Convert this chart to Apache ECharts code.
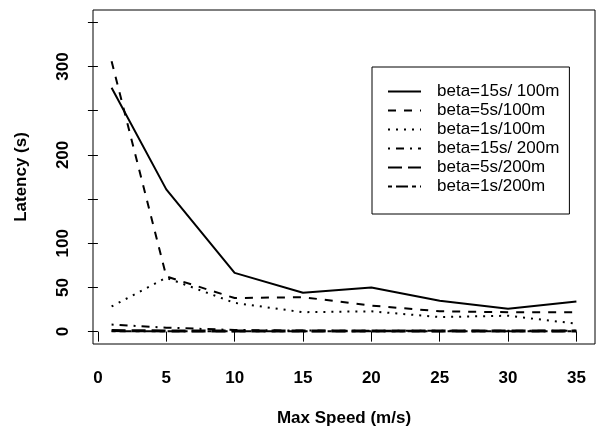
<!DOCTYPE html>
<html>
<head>
<meta charset="utf-8">
<script src="https://cdn.jsdelivr.net/npm/echarts@6/dist/echarts.min.js"></script>
<style>html,body{margin:0;padding:0;background:#fff}#c{width:597px;height:430px}</style>
</head>
<body>
<div id="c"></div>
<script>
var speeds = [1, 5, 10, 15, 20, 25, 30, 35];
var seriesNames = ['beta=15s/ 100m', 'beta=5s/100m', 'beta=1s/100m', 'beta=15s/ 200m', 'beta=5s/200m', 'beta=1s/200m'];
var b15s100 = [276, 161, 66.5, 44, 50, 35, 26, 34];
var b5s100 = [306, 62.5, 38, 39, 29.5, 23, 22, 22];
var b1s100 = [28.5, 61, 32.5, 22, 23, 16.5, 18, 9];
var b15s200 = [8, 4.5, 1.8, 1.2, 1, 1, 1, 1];
var b5s200 = [1.2, 0.8, 0.8, 0.8, 0.8, 0.8, 0.8, 0.8];
var b1s200 = [0.5, 0.5, 0.5, 0.5, 0.5, 0.5, 0.5, 0.5];
var xTicks = [0, 5, 10, 15, 20, 25, 30, 35];
var yTicks = [0, 50, 100, 150, 200, 250, 300, 350];
var yLabels = [0, 50, 100, 200, 300];

var seriesValues = [b15s100, b5s100, b1s100, b15s200, b5s200, b1s200];
var dashes = ['solid', [8, 8], [2, 6], [2, 6, 8, 6], [14, 6], [4, 4, 12, 4]];
var widths = [2, 2, 2, 2, 3, 2];
var FONT = 'Liberation Sans, Arial, Helvetica, sans-serif';

var series = seriesNames.map(function (n, i) {
  return {
    name: n, type: 'line', symbol: 'none', animation: false,
    data: speeds.map(function (x, j) { return [x, seriesValues[i][j]]; }),
    lineStyle: { color: '#000', width: widths[i], type: dashes[i], cap: 'butt' },
    itemStyle: { color: '#000' }
  };
});

var chart = echarts.init(document.getElementById('c'), null, { renderer: 'canvas' });
chart.setOption({
  backgroundColor: '#fff',
  animation: false,
  grid: { left: 93, right: 2, top: 10, bottom: 86, show: true, borderColor: '#000', borderWidth: 1, backgroundColor: 'transparent', containLabel: false, outerBoundsMode: 'none' },
  xAxis: {
    type: 'value', min: -0.36, max: 36.36,
    name: 'Max Speed (m/s)', nameLocation: 'middle', nameGap: 66,
    nameTextStyle: { fontFamily: FONT, fontWeight: 'bold', fontSize: 17, color: '#000' },
    axisLine: { show: false },
    splitLine: { show: false },
    axisTick: { show: true, inside: false, length: 10, customValues: xTicks, lineStyle: { color: '#000', width: 1 } },
    axisLabel: { customValues: xTicks, margin: 26, fontFamily: FONT, fontWeight: 'bold', fontSize: 17, color: '#000' }
  },
  yAxis: {
    type: 'value', min: -14, max: 364,
    name: 'Latency (s)', nameLocation: 'middle', nameGap: 63, nameRotate: 90,
    nameTextStyle: { fontFamily: FONT, fontWeight: 'bold', fontSize: 17, color: '#000' },
    axisLine: { show: false },
    splitLine: { show: false },
    axisTick: { show: true, inside: false, length: 10, customValues: yTicks, lineStyle: { color: '#000', width: 1 } },
    axisLabel: { customValues: yLabels, rotate: 90, margin: 21, fontFamily: FONT, fontWeight: 'bold', fontSize: 17, color: '#000' }
  },
  legend: {
    orient: 'vertical', left: 372, top: 67,
    padding: [15, 10, 18, 15],
    borderColor: '#000', borderWidth: 1,
    itemWidth: 33, itemHeight: 10, itemGap: 0,
    selectedMode: false,
    itemStyle: { color: 'transparent', borderColor: 'transparent', borderWidth: 0, opacity: 0 },
    textStyle: { fontFamily: FONT, fontSize: 17, color: '#000', lineHeight: 19, padding: [0, 0, 0, 11] },
    data: seriesNames
  },
  series: series
});
</script>
</body>
</html>
